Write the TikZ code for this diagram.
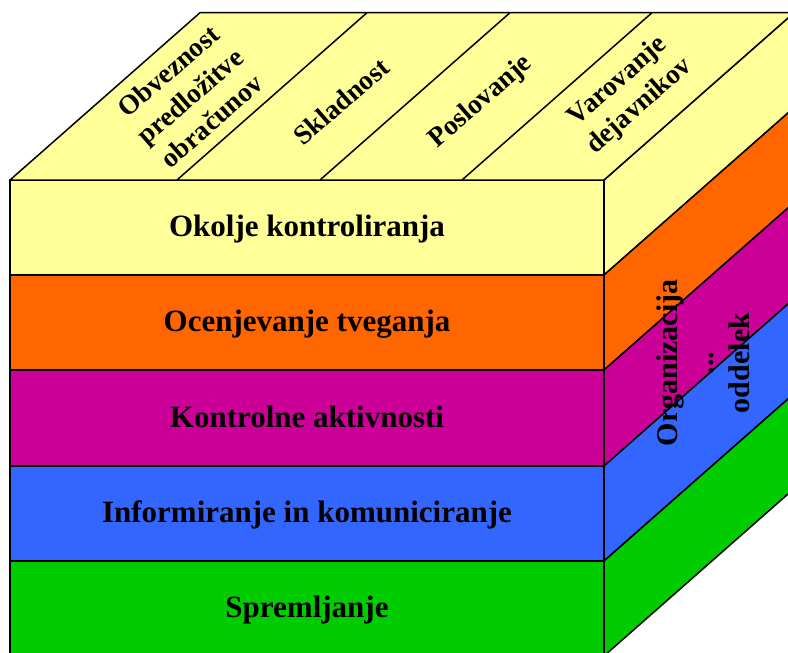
\documentclass[tikz,border=0pt]{standalone}
\usepackage{fontspec}
\setmainfont{Liberation Serif}
\definecolor{cyellow}{HTML}{FFFF99}
\definecolor{corange}{HTML}{FF6600}
\definecolor{cmagenta}{HTML}{CC0099}
\definecolor{cblue}{HTML}{3366FF}
\definecolor{cgreen}{HTML}{00CC00}
\begin{document}
\begin{tikzpicture}[x=1pt,y=-1pt,line join=round,
  edge/.style={draw=black,line width=1.5pt},
  frontlbl/.style={font=\fontsize{31}{37}\selectfont\bfseries,inner sep=0pt,anchor=base},
  toplbl/.style={font=\fontsize{27.5}{33}\selectfont\bfseries,align=center,rotate=41,inner sep=0pt},
  sidelbl/.style={font=\fontsize{30}{36}\selectfont\bfseries,align=center,rotate=90,inner sep=0pt}]
\useasboundingbox (0,0) rectangle (788,653);
\clip (0,0) rectangle (788,653);
% front face bands
\filldraw[edge,fill=cyellow]  (10,180) rectangle (604,275);
\filldraw[edge,fill=corange]  (10,275) rectangle (604,370);
\filldraw[edge,fill=cmagenta] (10,370) rectangle (604,466);
\filldraw[edge,fill=cblue]    (10,466) rectangle (604,561);
\filldraw[edge,fill=cgreen]   (10,561) rectangle (604,656);
% right face bands
\filldraw[edge,fill=cyellow]  (604,180) -- (794,12.7) -- (794,107.7) -- (604,275) -- cycle;
\filldraw[edge,fill=corange]  (604,275) -- (794,107.7) -- (794,202.7) -- (604,370) -- cycle;
\filldraw[edge,fill=cmagenta] (604,370) -- (794,202.7) -- (794,298.7) -- (604,466) -- cycle;
\filldraw[edge,fill=cblue]    (604,466) -- (794,298.7) -- (794,393.7) -- (604,561) -- cycle;
\filldraw[edge,fill=cgreen]   (604,561) -- (794,393.7) -- (794,488.7) -- (604,656) -- cycle;
% top face
\filldraw[edge,fill=cyellow] (10,180) -- (200,12.7) -- (794,12.7) -- (604,180) -- cycle;
\draw[edge] (177,180) -- (367,12.7);
\draw[edge] (320,180) -- (510,12.7);
\draw[edge] (462,180) -- (652,12.7);
% front labels
\node[frontlbl] (f1) at (307,236.5) {Okolje kontroliranja};
\node[frontlbl] (f2) at (307,331.5) {Ocenjevanje tveganja};
\node[frontlbl] (f3) at (307,427) {Kontrolne aktivnosti};
\node[frontlbl] (f4) at (307,522.5) {Informiranje in komuniciranje};
\node[frontlbl] (f5) at (307,617.5) {Spremljanje};
% top labels
\node[toplbl] (t1) at (190,96) {Obveznost\\predložitve\\obračunov};
\node[toplbl] (t2) at (341,101) {Skladnost};
\node[toplbl] (t3) at (481,102) {Poslovanje};
\node[toplbl] (t4) at (629,94) {Varovanje\\dejavnikov};
% side label
\node[sidelbl] (s1) at (703,363) {Organizacija\\...\\oddelek};
\end{tikzpicture}
\end{document}
